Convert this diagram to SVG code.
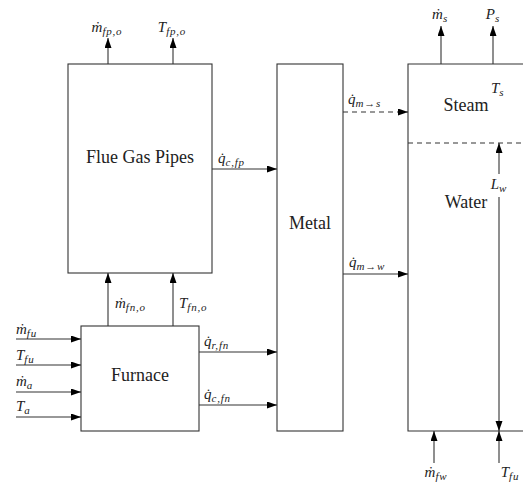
<svg xmlns="http://www.w3.org/2000/svg" width="523" height="488" viewBox="0 0 523 488">
<style>
.box{fill:#fff;stroke:#333;stroke-width:1.1}
.ln{fill:none;stroke:#333;stroke-width:1.1}
.dash{fill:none;stroke:#333;stroke-width:1.1;stroke-dasharray:5,4}
text{font-family:'Liberation Serif','DejaVu Serif','Times New Roman',serif}
.lbl{font-size:18px;fill:#222}
.m{font-size:15px;font-style:italic;fill:#222}
.s{font-size:11px;letter-spacing:0.8px}
</style>
<defs>
<marker id="ah" markerUnits="userSpaceOnUse" markerWidth="11" markerHeight="8" refX="10" refY="3.5" orient="auto">
<path d="M0,0 L10,3.5 L0,7 z" fill="#000"/>
</marker>
</defs>
<rect width="523" height="488" fill="#fff"/>
<g id="flue-gas-pipes">
<rect class="box" x="68" y="64" width="144" height="209"/>
<text class="lbl" x="140" y="163" text-anchor="middle">Flue Gas Pipes</text>
</g>
<g id="furnace">
<rect class="box" x="81" y="326" width="118" height="105"/>
<text class="lbl" x="140" y="381" text-anchor="middle">Furnace</text>
</g>
<g id="metal">
<rect class="box" x="277" y="64" width="66" height="367"/>
<text class="lbl" x="310" y="229" text-anchor="middle">Metal</text>
</g>
<g id="drum">
<path class="ln" d="M523,64 H408 V431 H523"/>
<line class="dash" x1="408" y1="143" x2="523" y2="143"/>
<text class="lbl" x="466" y="111" text-anchor="middle">Steam</text>
<text class="lbl" x="466" y="208" text-anchor="middle">Water</text>
<text class="m" x="491" y="93">T<tspan class="s" dy="3">s</tspan></text>
</g>
<g id="connectors">
<line class="ln" x1="108" y1="64" x2="108" y2="38" marker-end="url(#ah)"/>
<line class="ln" x1="173" y1="64" x2="173" y2="38" marker-end="url(#ah)"/>
<text class="m" x="107" y="32" text-anchor="middle">ṁ<tspan class="s" dy="3">fp,o</tspan></text>
<text class="m" x="172" y="32" text-anchor="middle">T<tspan class="s" dy="3">fp,o</tspan></text>
<line class="ln" x1="441" y1="64" x2="441" y2="26" marker-end="url(#ah)"/>
<line class="ln" x1="493" y1="64" x2="493" y2="26" marker-end="url(#ah)"/>
<text class="m" x="440" y="19" text-anchor="middle">ṁ<tspan class="s" dy="3">s</tspan></text>
<text class="m" x="493" y="19" text-anchor="middle">P<tspan class="s" dy="3">s</tspan></text>
<line class="ln" x1="108" y1="326" x2="108" y2="273" marker-end="url(#ah)"/>
<line class="ln" x1="173" y1="326" x2="173" y2="273" marker-end="url(#ah)"/>
<text class="m" x="115" y="308">ṁ<tspan class="s" dy="3">fn,o</tspan></text>
<text class="m" x="179" y="308">T<tspan class="s" dy="3">fn,o</tspan></text>
<line class="ln" x1="16" y1="339" x2="81" y2="339" marker-end="url(#ah)"/>
<line class="ln" x1="16" y1="365" x2="81" y2="365" marker-end="url(#ah)"/>
<line class="ln" x1="16" y1="392" x2="81" y2="392" marker-end="url(#ah)"/>
<line class="ln" x1="16" y1="417" x2="81" y2="417" marker-end="url(#ah)"/>
<text class="m" x="16" y="334">ṁ<tspan class="s" dy="3">fu</tspan></text>
<text class="m" x="16" y="360">T<tspan class="s" dy="3">fu</tspan></text>
<text class="m" x="16" y="386">ṁ<tspan class="s" dy="3">a</tspan></text>
<text class="m" x="16" y="411">T<tspan class="s" dy="3">a</tspan></text>
<line class="ln" x1="199" y1="352" x2="277" y2="352" marker-end="url(#ah)"/>
<line class="ln" x1="199" y1="405" x2="277" y2="405" marker-end="url(#ah)"/>
<text class="m" x="204" y="346">q̇<tspan class="s" dy="3">r,fn</tspan></text>
<text class="m" x="204" y="399">q̇<tspan class="s" dy="3">c,fn</tspan></text>
<line class="ln" x1="212" y1="169" x2="277" y2="169" marker-end="url(#ah)"/>
<text class="m" x="218" y="163">q̇<tspan class="s" dy="3">c,fp</tspan></text>
<line class="dash" x1="343" y1="112" x2="408" y2="112" marker-end="url(#ah)"/>
<text class="m" x="348" y="104">q̇<tspan class="s" dy="3">m→s</tspan></text>
<line class="ln" x1="343" y1="274" x2="408" y2="274" marker-end="url(#ah)"/>
<text class="m" x="349" y="267">q̇<tspan class="s" dy="3">m→w</tspan></text>
<line class="ln" x1="499" y1="174" x2="499" y2="143" marker-end="url(#ah)"/>
<line class="ln" x1="499" y1="197" x2="499" y2="431" marker-end="url(#ah)"/>
<text class="m" x="499" y="189" text-anchor="middle">L<tspan class="s" dy="3">w</tspan></text>
<line class="ln" x1="434" y1="463" x2="434" y2="431" marker-end="url(#ah)"/>
<line class="ln" x1="499" y1="463" x2="499" y2="431" marker-end="url(#ah)"/>
<text class="m" x="436" y="477" text-anchor="middle">ṁ<tspan class="s" dy="3">fw</tspan></text>
<text class="m" x="510" y="477" text-anchor="middle">T<tspan class="s" dy="3">fu</tspan></text>
</g>
</svg>
